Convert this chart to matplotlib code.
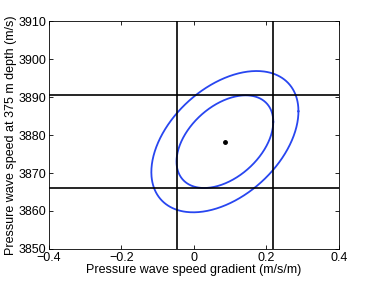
import numpy as np
import matplotlib
matplotlib.use("Agg")
import matplotlib.pyplot as plt

plt.rcParams['font.family'] = ['Liberation Sans', 'DejaVu Sans']

# Estimate (center) and uncertainty ellipses
center_x = 0.0855
center_y = 3878.25
ellipse_half_x = [0.1335, 0.203]   # inner, outer half-extent in x
ellipse_half_y = [12.2, 18.6]      # inner, outer half-extent in y
correlation = 0.43

# Bounds lines
vline_x = [-0.048, 0.219]
hline_y = [3866.05, 3890.45]

x_ticks = [-0.4, -0.2, 0, 0.2, 0.4]
y_ticks = [3850, 3860, 3870, 3880, 3890, 3900, 3910]

fig = plt.figure(figsize=(3.74, 2.81), dpi=100)
ax = fig.add_axes([0.131, 0.114, 0.775, 0.811])

phi = np.arccos(correlation)
t = np.linspace(0, 2 * np.pi, 400)
for hx, hy in zip(ellipse_half_x, ellipse_half_y):
    ax.plot(center_x + hx * np.cos(t), center_y + hy * np.cos(t - phi),
            color='#2846f0', lw=1.3)

for v in vline_x:
    ax.axvline(v, color='black', lw=1.2)
for h in hline_y:
    ax.axhline(h, color='black', lw=1.2)

ax.plot([center_x], [center_y], 'o', color='black', ms=2.5)

ax.set_xlim(-0.4, 0.4)
ax.set_ylim(3850, 3910)
ax.set_xticks(x_ticks)
ax.set_xticklabels(['\u22120.4', '\u22120.2', '0', '0.2', '0.4'])
ax.set_yticks(y_ticks)
ax.set_yticklabels([str(v) for v in y_ticks])
ax.tick_params(direction='in', top=True, right=True, labelsize=9, length=3, width=0.6, pad=2)
for s in ax.spines.values():
    s.set_linewidth(0.6)
ax.set_xlabel('Pressure wave speed gradient (m/s/m)', fontsize=9, labelpad=0)
ax.set_ylabel('Pressure wave speed at 375 m depth (m/s)', fontsize=9, labelpad=1)

fig.savefig('out.png', dpi=100)
